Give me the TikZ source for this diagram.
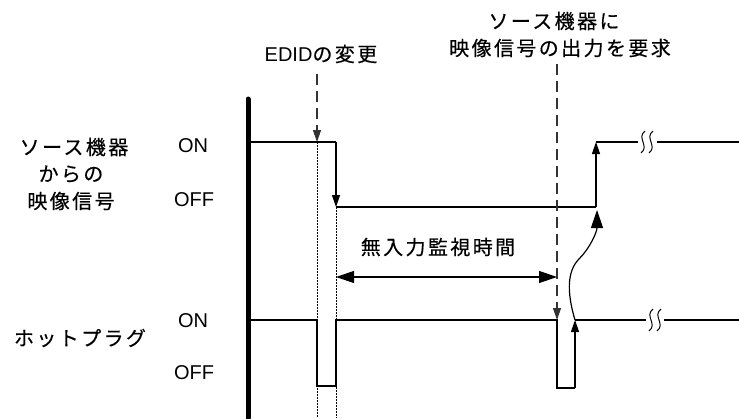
\documentclass[tikz,border=0pt]{standalone}
\usepackage{fontspec}
\setmainfont{Noto Sans CJK JP}[LetterSpace=12,FakeBold=0.4]
\newfontfamily\latinfont{Liberation Sans}
\usetikzlibrary{arrows.meta}

\tikzset{
  sig/.style={line width=1.2pt},
  tip/.style={-{Triangle[length=12pt,width=8pt]}},
  bigtip/.style={{Triangle[length=18pt,width=12pt]}-{Triangle[length=18pt,width=12pt]}},
  curvetip/.style={-{Triangle[length=18pt,width=12pt]}},
  guide/.style={dash pattern=on 11pt off 6pt, line width=1.2pt, black!80},
  dotline/.style={dash pattern=on 1.5pt off 1.5pt, line width=1pt},
  lbl/.style={inner sep=0pt, font=\fontsize{20}{24}\selectfont},
  state/.style={lbl, font=\fontsize{20}{24}\selectfont\latinfont}
}

% wavy break mark on a signal line
\newcommand{\wavebreak}[2]{%
  \foreach \dx in {0,8}{
    \draw[line width=1pt] (#1+\dx+2,#2-11) .. controls (#1+\dx-7,#2-4) and (#1+\dx+7,#2+4) .. (#1+\dx-2,#2+11);
  }}

\begin{document}
\begin{tikzpicture}[x=1pt,y=-1pt]
    \useasboundingbox (0,0) rectangle (739,418);

    % Labels
    \node[lbl] (srcA) at (74,147) {ソース機器};
    \node[lbl] (srcB) at (71,174) {からの};
    \node[lbl] (srcC) at (71,201) {映像信号};
    \node[lbl] (hpd) at (80,338) {ホットプラグ};
    \node[state] (onA) at (193,146) {ON};
    \node[state] (offA) at (194,200) {OFF};
    \node[state] (onB) at (193,321) {ON};
    \node[state] (offB) at (194,373) {OFF};
    \node[lbl] (edid) at (321,54) {{\latinfont EDID}の変更};
    \node[lbl] (reqA) at (554,21) {ソース機器に};
    \node[lbl] (reqB) at (560,48) {映像信号の出力を要求};
    \node[lbl] (wait) at (438,247) {無入力監視時間};

    % Time axis
    \draw[line width=5pt, line cap=round] (248,99) -- (248,418);

    % Key points
    \coordinate (edidTop) at (317,74);
    \coordinate (edidOn) at (317,142);
    \coordinate (srcFallTop) at (336,142);
    \coordinate (srcFall) at (336,207);
    \coordinate (srcRise) at (596,207);
    \coordinate (srcRiseTop) at (596,142);
    \coordinate (reqTop) at (557,64);
    \coordinate (reqHpd) at (557,320);
    \coordinate (hpdLow) at (557,388);
    \coordinate (hpdRiseLow) at (575,388);
    \coordinate (hpdRise) at (575,320);
    \coordinate (waitL) at (336,277);
    \coordinate (waitR) at (557,277);

    % Dotted guides
    \draw[dotline] (edidOn) -- (317,418);
    \draw[dotline] (srcFall) -- (336,418);

    % Source video signal
    \draw[sig] (251,142) -- (srcFallTop);
    \draw[sig, tip] (srcFallTop) -- (srcFall);
    \draw[sig] (srcFall) -- (srcRise);
    \draw[sig, tip] (srcRise) -- (srcRiseTop);
    \draw[sig] (srcRiseTop) -- (638,142);
    \wavebreak{643}{142}
    \draw[sig] (657,142) -- (739,142);

    % Hot plug signal
    \draw[sig] (251,320) -- (317,320) -- (317,386) -- (336,386) -- (336,320) -- (reqHpd)
        -- (hpdLow) -- (hpdRiseLow);
    \draw[sig, tip] (hpdRiseLow) -- (hpdRise);
    \draw[sig] (hpdRise) -- (646,320);
    \wavebreak{651}{320}
    \draw[sig] (664,320) -- (739,320);

    % Events
    \draw[guide, tip] (edidTop) -- (edidOn);
    \draw[guide, tip] (reqTop) -- (reqHpd);
    \draw[sig, bigtip] (waitL) -- (waitR);
    \draw[sig, curvetip] (hpdRise) .. controls (566,290) and (568,270) .. (579,259)
        .. controls (590,248) and (597,232) .. (597,210);

\end{tikzpicture}
\end{document}
